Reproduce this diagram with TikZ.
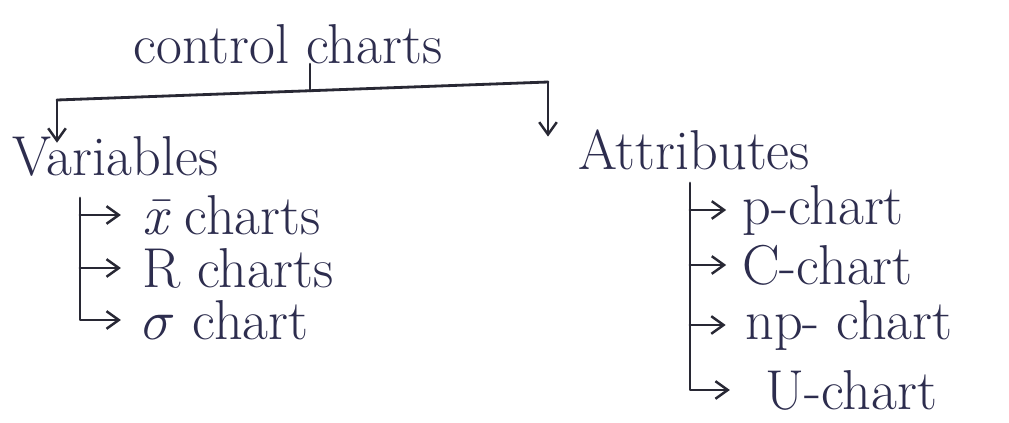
\documentclass[tikz,border=0pt]{standalone}
\usepackage{fix-cm}
\usepackage{fontspec}
\usetikzlibrary{arrows.meta}
\definecolor{inkc}{RGB}{45,45,78}
\definecolor{linec}{RGB}{40,40,52}
\begin{document}
\begin{tikzpicture}[x=0.02cm,y=-0.02cm,
  lbl/.style={font=\fontsize{32}{36}\selectfont, text=inkc, inner sep=0pt},
  conn/.style={draw=linec, line width=1.6pt, line cap=round, line join=round},
  arr/.style={conn, -{Straight Barb[length=7pt,width=10pt,line width=1.4pt]}}]
\useasboundingbox[fill=white] (0,0) rectangle (1009,423);
% labels
\node[lbl] (title) at (288,44) {control charts};
\node[lbl, anchor=west] (var) at (12,156) {Variables};
\node[lbl, anchor=west] (attr) at (578,150) {Attributes};
\node[lbl, anchor=west] (xbar) at (142,215) {\itshape\=x\upshape{} charts};
\node[lbl, anchor=west] (rch) at (142,268) {R charts};
\node[lbl, anchor=west] (sig) at (142,320) {$\sigma$ chart};
\node[lbl, anchor=west] (pch) at (742,210) {p-chart};
\node[lbl, anchor=west] (cch) at (742,265) {C-chart};
\node[lbl, anchor=west] (npch) at (745,325) {np- chart};
\node[lbl, anchor=west] (uch) at (765,390) {U-chart};
% top split
\coordinate (L) at (57,100);
\coordinate (R) at (548,82);
\coordinate (J) at (310,91);
\draw[conn] (L) -- (R);
\draw[conn] (title.south -| J) -- (J);
\draw[arr] (L) -- ([yshift=-4pt]L |- var.north);
\draw[arr] (R) -- ([yshift=-4pt]R |- attr.north);
% variables bracket
\coordinate (vb) at (80,198);
\draw[arr, shorten >=12pt] (vb) |- (sig.west);
\draw[arr, shorten >=12pt] (vb |- xbar.west) -- (xbar.west);
\draw[arr, shorten >=12pt] (vb |- rch.west) -- (rch.west);
% attributes bracket
\coordinate (ab) at (690,183);
\draw[arr, shorten >=20pt] (ab) |- (uch.west);
\draw[arr, shorten >=9pt] (ab |- pch.west) -- (pch.west);
\draw[arr, shorten >=9pt] (ab |- cch.west) -- (cch.west);
\draw[arr, shorten >=11pt] (ab |- npch.west) -- (npch.west);
\end{tikzpicture}
\end{document}
